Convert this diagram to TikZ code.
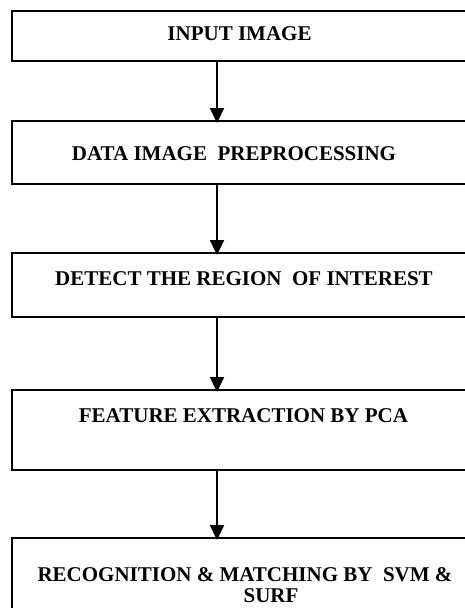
\documentclass[tikz,border=0pt]{standalone}
\usepackage{fontspec}
\setmainfont{Liberation Serif}
\usetikzlibrary{arrows.meta}
\begin{document}
\begin{tikzpicture}[x=1pt,y=-1pt,
  stepbox/.style={draw=black, line width=2pt, rectangle, inner sep=0pt, anchor=north west, minimum width=480pt},
  label/.style={anchor=base, inner sep=0pt, font=\fontsize{21}{24}\selectfont\bfseries},
  arr/.style={line width=2.2pt, -{Triangle[length=15pt,width=14pt]}, shorten >=-3pt}]
\useasboundingbox (0,0) rectangle (465,608);
\clip (0,0) rectangle (465,608);
\fill[white] (0,0) rectangle (465,608);
\node[stepbox, minimum height=50pt] (b1) at (11,10) {};
\node[stepbox, minimum height=63pt] (b2) at (11,120) {};
\node[stepbox, minimum height=64pt] (b3) at (11,252) {};
\node[stepbox, minimum height=80pt] (b4) at (11,389) {};
\node[stepbox, minimum height=100pt] (b5) at (11,537) {};
\node[label] (t1) at (239.5,40.7) {INPUT IMAGE};
\node[label] (t2) at (234,160) {DATA IMAGE\ \ PREPROCESSING};
\node[label] (t3) at (244,285.7) {DETECT THE REGION\ \ OF INTEREST};
\node[label] (t4) at (243.5,422.7) {FEATURE EXTRACTION BY PCA};
\node[label] (t5a) at (245,581) {RECOGNITION \& MATCHING BY\ \ SVM \&};
\node[label] (t5b) at (271,602.5) {SURF};
\coordinate (ax) at (217,0);
\draw[arr] (b1.south -| ax) -- (b2.north -| ax);
\draw[arr] (b2.south -| ax) -- (b3.north -| ax);
\draw[arr] (b3.south -| ax) -- (b4.north -| ax);
\draw[arr] (b4.south -| ax) -- (b5.north -| ax);
\end{tikzpicture}
\end{document}
